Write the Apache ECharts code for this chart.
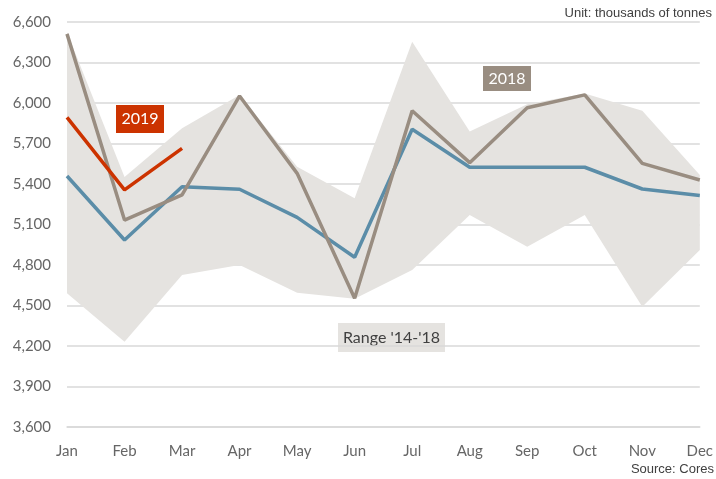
<!DOCTYPE html>
<html>
<head>
<meta charset="utf-8">
<script src="https://cdn.jsdelivr.net/npm/echarts@6/dist/echarts.min.js"></script>
<style>html,body{margin:0;padding:0;background:#fff;}#c{width:716px;height:479px;}</style>
</head>
<body>
<div id="c"></div>
<script>
var months = ['Jan','Feb','Mar','Apr','May','Jun','Jul','Aug','Sep','Oct','Nov','Dec'];
var rangeLow  = [4590, 4232, 4726, 4800, 4595, 4550, 4763, 5170, 4936, 5170, 4491, 4911];
var rangeHigh = [6525, 5452, 5813, 6060, 5528, 5294, 6454, 5788, 5990, 6070, 5943, 5467];
var avg5      = [5459, 4985, 5380, 5361, 5153, 4857, 5805, 5524, 5524, 5524, 5363, 5314];
var y2018     = [6512, 5133, 5319, 6052, 5479, 4553, 5943, 5558, 5965, 6060, 5553, 5430];
var y2019     = [5894, 5356, 5664];
var yTicks    = [3600, 6600, 300];

var rangeSpan = rangeHigh.map(function(v,i){return v - rangeLow[i];});
var FONT = 'Lato';
function box(x, y, w, h, fill, txt, color){
  return {type:'rect', left:x, top:y, shape:{width:w, height:h}, style:{fill:fill},
    textContent:{style:{text:txt, fill:color, font:'16px Lato'}},
    textConfig:{position:'inside'}};
}
var chart = echarts.init(document.getElementById('c'), null, {renderer:'canvas'});
chart.setOption({
  animation:false,
  backgroundColor:'#ffffff',
  grid:{left:67, right:14, top:22, bottom:52, containLabel:false},
  xAxis:{
    type:'category', data:months, boundaryGap:false,
    axisLine:{show:true, lineStyle:{color:'#D9D9D9', width:1.5}},
    axisTick:{show:false},
    axisLabel:{color:'#666666', fontFamily:FONT, fontSize:15, margin:17}
  },
  yAxis:{
    type:'value', min:yTicks[0], max:yTicks[1], interval:yTicks[2],
    axisLine:{show:false}, axisTick:{show:false},
    splitLine:{lineStyle:{color:'#D9D9D9', width:1.5}},
    axisLabel:{color:'#666666', fontFamily:FONT, fontSize:15, margin:16,
      formatter:function(v){return v.toLocaleString('en-US');}}
  },
  series:[
    {name:'base', type:'line', stack:'r', data:rangeLow, symbol:'none',
     lineStyle:{opacity:0}, silent:true},
    {name:"Range '14-'18", type:'line', stack:'r', data:rangeSpan, symbol:'none',
     lineStyle:{opacity:0}, areaStyle:{color:'#E5E3E0', opacity:1}, silent:true},
    {name:'5-year avg.', type:'line', data:avg5, symbol:'none',
     lineStyle:{color:'#5B8DA8', width:3.5}},
    {name:'2018', type:'line', data:y2018, symbol:'none',
     lineStyle:{color:'#998D81', width:3.5}},
    {name:'2019', type:'line', data:y2019, symbol:'none',
     lineStyle:{color:'#CC3300', width:3.5}}
  ],
  graphic:[
    {type:'text', right:4, top:7, style:{text:'Unit: thousands of tonnes', fill:'#404040', font:'13px "Liberation Sans"'}},
    {type:'text', right:2, top:463, style:{text:'Source: Cores', fill:'#404040', font:'13px "Liberation Sans"'}},
    box(116, 105, 48, 28, '#CC3300', '2019', '#ffffff'),
    box(483, 66, 48, 25, '#998D81', '2018', '#ffffff'),
    box(413, 183, 89, 26, '#5B8DA8', '5-year avg.', '#ffffff'),
    box(338, 323, 107, 29, '#E5E3E0', "Range '14-'18", '#404040')
  ]
});
</script>
</body>
</html>
